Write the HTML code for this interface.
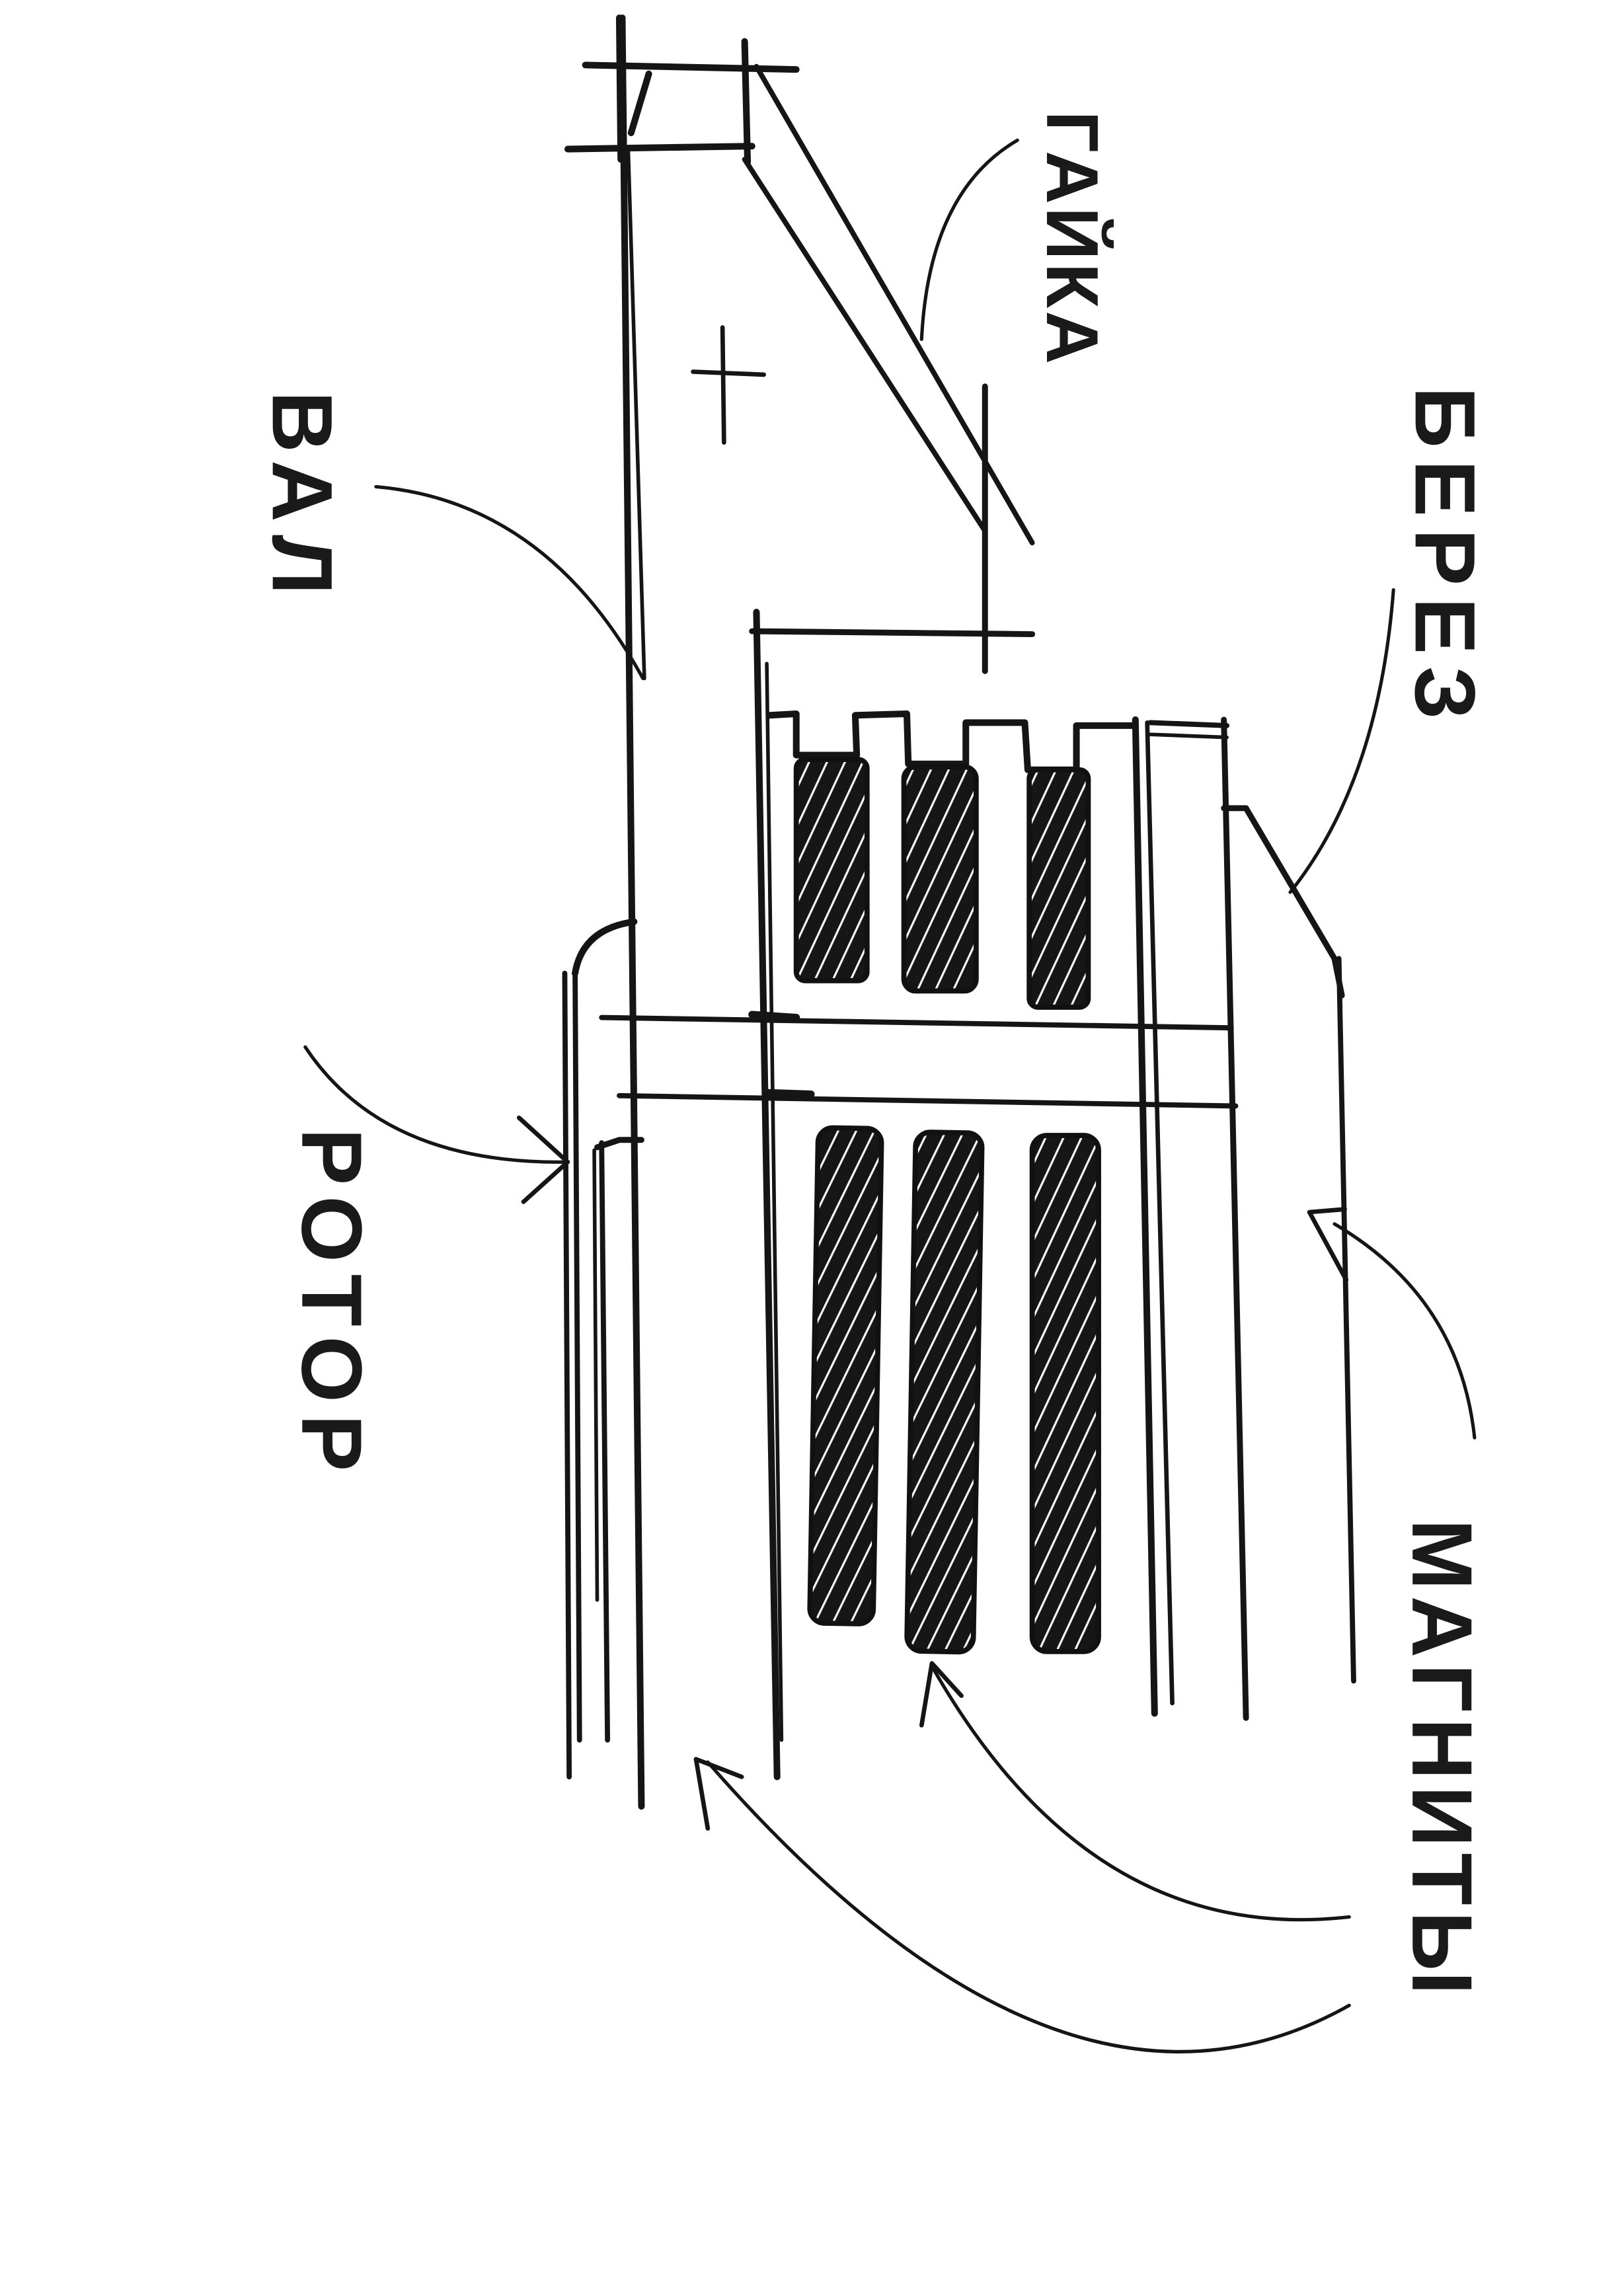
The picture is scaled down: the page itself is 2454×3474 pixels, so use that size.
<!DOCTYPE html>
<html><head><meta charset="utf-8"><style>
html,body{margin:0;padding:0;background:#fff}
svg{display:block}
text{font-family:"Liberation Sans","DejaVu Sans",sans-serif;fill:#1a1a1a;font-size:58px;letter-spacing:8px;font-weight:bold}
</style></head><body>
<svg width="2454" height="3474" viewBox="0 0 1100 1557" xmlns="http://www.w3.org/2000/svg">
<defs>
<pattern id="h" patternUnits="userSpaceOnUse" width="11" height="11" patternTransform="rotate(25)">
<rect width="11" height="11" fill="#161616"/><rect x="0" y="0" width="1.4" height="11" fill="#fff"/>
</pattern>
</defs>
<g fill="none" stroke="#151515" stroke-linecap="round" stroke-linejoin="round">
<g stroke-width="4.5">
<line x1="397" y1="44" x2="540" y2="47"/>
<line x1="385" y1="101" x2="510" y2="99"/>
<line x1="420" y1="12" x2="421" y2="108"/>
<line x1="505" y1="28" x2="507" y2="110"/>
<line x1="428" y1="90" x2="440" y2="50"/>
</g>
<line x1="422" y1="12" x2="435" y2="1225" stroke-width="4.5"/>
<line x1="426" y1="100" x2="437" y2="460" stroke-width="2.5"/>
<line x1="505" y1="108" x2="668" y2="360" stroke-width="3.5"/>
<line x1="513" y1="45" x2="700" y2="368" stroke-width="3.5"/>
<line x1="668" y1="262" x2="668" y2="455" stroke-width="4"/>
<line x1="470" y1="252" x2="518" y2="254" stroke-width="3"/>
<line x1="490" y1="222" x2="491" y2="300" stroke-width="3"/>
<line x1="510" y1="428" x2="700" y2="430" stroke-width="4"/>
<line x1="513" y1="415" x2="527" y2="1205" stroke-width="4.5"/>
<line x1="520" y1="450" x2="530" y2="1180" stroke-width="2.5"/>
<polyline points="522,485 540,484 540,512 581,512 580,485 615,484 616,518 655,518 655,490 695,490 697,522 730,522 730,492 770,492" stroke-width="4.5"/>
<line x1="780" y1="490" x2="832" y2="492" stroke-width="3.5"/>
<line x1="780" y1="498" x2="832" y2="500" stroke-width="2.5"/>
<line x1="770" y1="488" x2="783" y2="1162" stroke-width="4.5"/>
<line x1="778" y1="490" x2="795" y2="1155" stroke-width="3"/>
<line x1="830" y1="488" x2="845" y2="1165" stroke-width="4"/>
<polyline points="830,548 845,548 905,650 910,675" stroke-width="4"/>
<line x1="908" y1="650" x2="918" y2="1140" stroke-width="3.5"/>
<line x1="408" y1="690" x2="835" y2="697" stroke-width="3.5"/>
<line x1="420" y1="743" x2="838" y2="750" stroke-width="3.5"/>
<line x1="510" y1="688" x2="540" y2="690" stroke-width="5"/>
<line x1="520" y1="741" x2="550" y2="742" stroke-width="5"/>
<line x1="383" y1="660" x2="386" y2="1205" stroke-width="3.5"/>
<line x1="390" y1="658" x2="393" y2="1180" stroke-width="3.5"/>
<path d="M390,660 Q395,630 430,625" stroke-width="4.5"/>
<line x1="408" y1="775" x2="412" y2="1180" stroke-width="3.5"/>
<polyline points="405,778 420,773 435,773" stroke-width="4"/>
<line x1="403" y1="780" x2="405" y2="1085" stroke-width="2.5"/>
<g stroke-width="2.3">
<path d="M255,330 Q370,340 436,460"/>
<path d="M690,95 Q630,130 625,230"/>
<path d="M945,400 Q935,530 875,605"/>
<path d="M207,710 Q260,790 385,788"/>
<path d="M352,758 L385,788 L355,815" stroke-width="3"/>
<path d="M1000,975 Q990,880 905,830"/>
<path d="M912,820 L888,822 L913,868" stroke-width="3"/>
<path d="M915,1300 Q740,1320 632,1130"/>
<path d="M625,1170 L632,1128 L652,1150" stroke-width="3"/>
<path d="M915,1360 Q720,1470 480,1195"/>
<path d="M480,1240 L472,1193 L503,1205" stroke-width="3"/>
</g>
</g>
<g fill="url(#h)" stroke="#111" stroke-width="3.5">
<rect x="540" y="515" width="48" height="150" rx="6"/>
<rect x="613" y="520" width="49" height="152" rx="8"/>
<rect x="698" y="522" width="40" height="161" rx="6"/>
<rect x="552" y="765" width="43" height="336" rx="10" transform="rotate(1 573 933)"/>
<rect x="618" y="768" width="45" height="352" rx="10" transform="rotate(1 640 944)"/>
<rect x="700" y="770" width="45" height="350" rx="10"/>
</g>
<text transform="translate(185,265) rotate(90)">ВАЛ</text>
<text transform="translate(710,75) rotate(90)" style="font-size:50px;letter-spacing:2px">ГАЙКА</text>
<text transform="translate(960,262) rotate(90)">БЕРЕЗ</text>
<text transform="translate(205,765) rotate(90)">РОТОР</text>
<text transform="translate(958,1030) rotate(90)" style="letter-spacing:4px">МАГНИТЫ</text>
</svg>
</body></html>
